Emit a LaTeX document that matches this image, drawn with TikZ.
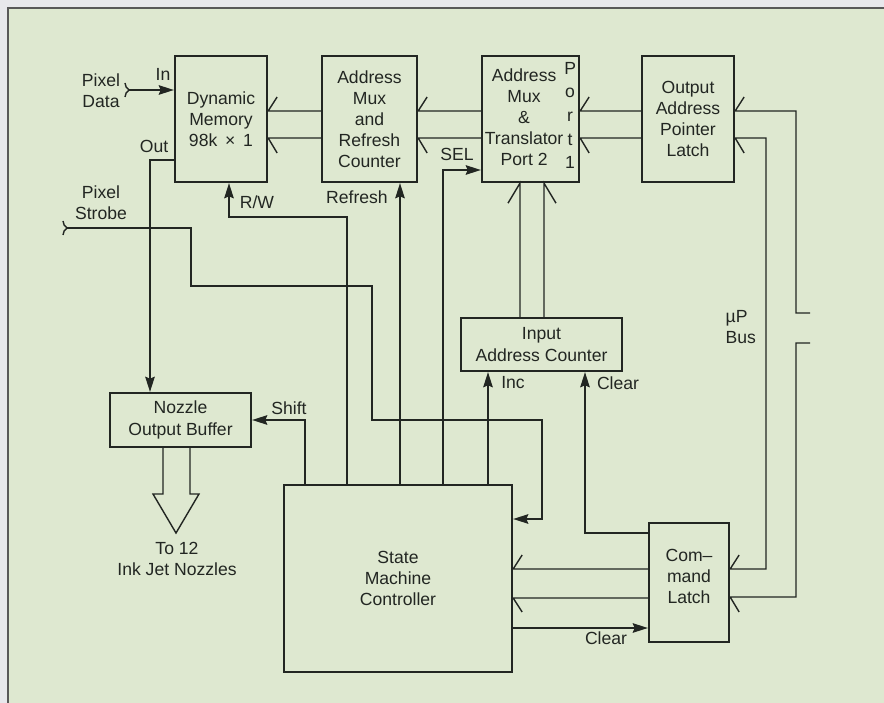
\documentclass[tikz,border=0pt]{standalone}
\usepackage{fontspec}
\setmainfont{Liberation Sans}
\usetikzlibrary{arrows.meta}
\definecolor{paper}{RGB}{222,232,208}
\definecolor{margin}{RGB}{232,232,236}
\definecolor{ink}{RGB}{34,38,34}
\tikzstyle{block} = [
    rectangle,
    draw=ink,
    line width=1.6pt,
    align=center,
    inner sep=0pt
]
\tikzstyle{wire} = [draw=ink, line width=1pt]
\tikzstyle{arrow} = [wire, -{Stealth[length=3.8mm,width=2.4mm,inset=0.5mm]}]
\tikzstyle{tag} = [inner sep=1pt, align=center]

\begin{document}
\begin{tikzpicture}[x=0.025cm, y=-0.025cm, font=\fontsize{12.5}{15}\selectfont, text=ink]

\useasboundingbox (0,0) rectangle (884,703);
\fill [margin] (0,0) rectangle (884,703);
\fill [paper] (8,8) rectangle (884,703);
\draw [gray!70!black, line width=0.9pt] (8,703) -- (8,8) -- (884,8);

\node (mem) [block, minimum width=2.3cm, minimum height=3.15cm] at (221,119)
{Dynamic\\Memory\\98k \,×\, 1};

\node (amux) [block, minimum width=2.375cm, minimum height=3.15cm] at (369.5,119)
{Address\\Mux\\and\\Refresh\\Counter};

\node (trans) [block, minimum width=2.425cm, minimum height=3.15cm,
    label={[name=transtxt, tag, xshift=-0.16cm, yshift=0.05cm]center:Address\\Mux\\\&\\Translator\\Port 2},
    label={[name=port1, tag, xshift=0.99cm, yshift=0.09cm, font=\fontsize{12.5}{16.8}\selectfont]center:P\\o\\r\\t\\1}]
    at (530.5,119) {};

\node (oapl) [block, minimum width=2.3cm, minimum height=3.15cm] at (688,119)
{Output\\Address\\Pointer\\Latch};

\node (nozzle) [block, minimum width=3.525cm, minimum height=1.35cm] at (180.5,420)
{Nozzle\\Output Buffer};

\node (iac) [block, minimum width=4.025cm, minimum height=1.325cm] at (541.5,344.5)
{Input\\Address Counter};

\node (smc) [block, minimum width=5.7cm, minimum height=4.675cm] at (398,578.5)
{State\\Machine\\Controller};

\node (cmd) [block, minimum width=2cm, minimum height=2.975cm,
    label={[name=cmdtxt, tag, yshift=0.15cm]center:Com--\\mand\\Latch}] at (689,582.5) {};

% inputs from outside
\coordinate (pdata) at (129,90);
\coordinate (pstrobe) at (67,228);
\node (pdatalbl) [tag] at (101,91) {Pixel\\Data};
\node (pstrobelbl) [tag] at (101,203) {Pixel\\Strobe};
\draw [wire] ([shift={(-4,-7)}]pdata) to[bend right=25] (pdata) to[bend right=25] ([shift={(-4,7)}]pdata);
\draw [wire] ([shift={(-4,-7)}]pstrobe) to[bend right=25] (pstrobe) to[bend right=25] ([shift={(-4,7)}]pstrobe);

\draw [arrow] (pdata) -- (mem.west |- pdata);
\node (inlbl) [tag] at (163,74) {In};

\draw [arrow] (mem.west |- 0,160) -| (nozzle.north -| 150,0);
\node (outlbl) [tag] at (154,146) {Out};

\draw [arrow] (pstrobe) -| (191,286) -| (372,420) -| (542,519) -- (smc.east |- 0,519);

% control lines
\draw [arrow] (smc.north -| 305,0) |- (nozzle.east);
\node (shiftlbl) [tag] at (289,408) {Shift};

\draw [arrow] (smc.north -| 347,0) |- (229,217) -- (mem.south -| 229,0);
\node (rwlbl) [tag] at (257,202) {R/W};

\draw [arrow] (smc.north -| 400,0) -- (amux.south -| 400,0);
\node (refreshlbl) [tag] at (357,197) {Refresh};

\draw [arrow] (smc.north -| 443,0) |- (trans.west |- 0,170);
\node (sellbl) [tag] at (457,154) {SEL};

\draw [arrow] (smc.north -| 488,0) -- (iac.south -| 488,0);
\node (inclbl) [tag] at (513,383) {Inc};

\draw [arrow] (cmd.west |- 0,533) -| (iac.south -| 585,0);
\node (clearup) [tag] at (618,383) {Clear};

\draw [arrow] (smc.east |- 0,628) -- (cmd.west |- 0,628);
\node (clearlow) [tag] at (606,638) {Clear};

% address buses
\draw [wire] (amux.west |- 0,111) -- (mem.east |- 0,111) -- ++(9,-14);
\draw [wire] (amux.west |- 0,138) -- (mem.east |- 0,138) -- ++(9,15);
\draw [wire] (trans.west |- 0,111) -- (amux.east |- 0,111) -- ++(9,-14);
\draw [wire] (trans.west |- 0,138) -- (amux.east |- 0,138) -- ++(9,15);
\draw [wire] (oapl.west |- 0,111) -- (trans.east |- 0,111) -- ++(9,-14);
\draw [wire] (oapl.west |- 0,138) -- (trans.east |- 0,138) -- ++(9,15);
\draw [wire] (iac.north -| 520,0) -- (trans.south -| 520,0) -- ++(-12,20);
\draw [wire] (iac.north -| 544,0) -- (trans.south -| 544,0) -- ++(12,20);

% uP bus
\draw [wire] (810,313) -- (796,313) |- (oapl.east |- 0,111) -- ++(9,-14);
\draw [wire] (cmd.east |- 0,569) ++(9,-14) -- (cmd.east |- 0,569) -| (766,138) -- (oapl.east |- 0,138) -- ++(9,15);
\draw [wire] (810,343) -- (796,343) |- (cmd.east |- 0,597) -- ++(9,15);
\node (buslbl) [tag, align=left, anchor=west] at (724,327) {µP\\Bus};

\draw [wire] (cmd.west |- 0,569) -- (smc.east |- 0,569) -- ++(9,-14);
\draw [wire] (cmd.west |- 0,598) -- (smc.east |- 0,598) -- ++(9,14);

% output to the nozzles
\coordinate (jet) at (176,533);
\draw [wire] (nozzle.south -| 163,0) -- (163,494) -- (153,494) -- (jet) -- (199,494) -- (190,494) -- (nozzle.south -| 190,0);
\node (jetlbl) [tag] at (177,559) {To 12\\Ink Jet Nozzles};

\end{tikzpicture}
\end{document}
